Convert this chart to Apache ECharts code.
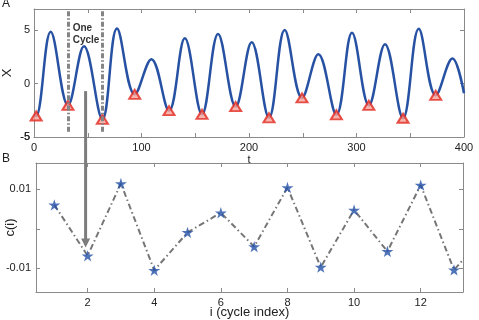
<!DOCTYPE html>
<html>
<head>
<meta charset="utf-8">
<script src="https://cdn.jsdelivr.net/npm/echarts@6/dist/echarts.min.js"></script>
<style>
    html, body { margin: 0; padding: 0; background: #fff; }
    #main { width: 479px; height: 320px; }
</style>
</head>
<body>
<div id="main"></div>
<script>
// panel A: oscillation X(t) (start, troughs, peaks, end)
var tVals = [0, 2, 15.5, 31.6, 46.5, 63.6, 77.2, 93.7, 109.2, 125.6, 140.3, 156.3, 171.2, 187.6,
    202.5, 218.6, 233.2, 249.3, 264.5, 281.3, 295.8, 311.5, 326.5, 343.3, 357.9, 373.7, 389.2, 400];
var xVals = [-2.95, -3.03, 4.86, -2.03, 3.51, -3.34, 5.17, -1.0, 2.3, -2.53, 4.25, -2.87, 4.65, -2.15,
    3.89, -3.2, 5.03, -1.34, 2.76, -2.92, 4.77, -2.03, 3.7, -3.24, 5.14, -1.09, 2.36, -0.9];

// minima (red triangles)
var minT = [2, 31.6, 63.6, 93.7, 125.6, 156.3, 187.6, 218.6, 249.3, 281.3, 311.5, 343.3, 373.7];
var minX = [-3.03, -2.03, -3.34, -1.0, -2.53, -2.87, -2.15, -3.2, -1.34, -2.92, -2.03, -3.24, -1.09];

// "One Cycle" markers
var cycleBounds = [31.6, 63.4];

// panel B: c(i) per cycle index (last one runs off the right edge)
var cycleIdx = [1, 2, 3, 4, 5, 6, 7, 8, 9, 10, 11, 12, 13, 14];
var cVals = [0.0061, -0.0068, 0.0115, -0.0105, -0.0009, 0.0041, -0.0045, 0.0105, -0.0097, 0.0048,
    -0.0057, 0.0111, -0.0104, -0.001];

// ticks
var topTicksX = [0, 50, 100, 150, 200, 250, 300, 350, 400];
var topLabelsX = [0, 100, 200, 300, 400];
var topTicksY = [-5, 0, 5];
var botTicksX = [2, 4, 6, 8, 10, 12];
var botTicksY = [-0.01, 0, 0.01];
var botLabelsY = [-0.01, 0.01];

var FONT = 'Liberation Sans, Arial, sans-serif';
var AXIS_GRAY = '#8a8a8a';
var CURVE_BLUE = '#2752a3';
var STAR = 'path://M50,0 L61,35 L98,35 L68,57 L79,91 L50,70 L21,91 L32,57 L2,35 L39,35 Z';

var pairs = function (xs, ys) {
    return xs.map(function (x, i) { return [x, ys[i]]; });
};

var axis = function (grid, pos, min, max, ticks, labels, margin, extra) {
    var a = {
        type: 'value',
        gridIndex: grid,
        position: pos,
        min: min,
        max: max,
        nameMoveOverlap: false,
        axisLine: { show: true, onZero: false, lineStyle: { color: AXIS_GRAY, width: 1 } },
        axisTick: { show: true, inside: true, length: 4, customValues: ticks, lineStyle: { color: AXIS_GRAY } },
        axisLabel: labels ? {
            show: true, customValues: labels, margin: margin,
            showMinLabel: true, showMaxLabel: true, hideOverlap: false,
            color: '#222', fontSize: 11, fontFamily: FONT
        } : { show: false },
        splitLine: { show: false }
    };
    return Object.assign(a, extra || {});
};

var nameStyle = { color: '#222', fontSize: 13, fontFamily: FONT };
var panelTitle = { fontSize: 12, fontWeight: 'normal', color: '#222', fontFamily: FONT };

var chartDom = document.getElementById('main');
var myChart = echarts.init(chartDom, null, { renderer: 'canvas' });

var option = {
    animation: false,
    backgroundColor: '#fff',
    title: [
        { text: 'A', left: 2, top: -2, padding: 0, textStyle: panelTitle },
        { text: 'B', left: 2, top: 153, padding: 0, textStyle: panelTitle }
    ],
    grid: [
        { left: 34, top: 9, width: 430, height: 128, outerBoundsMode: 'none', containLabel: false },
        { left: 36, top: 163, width: 427, height: 129, outerBoundsMode: 'none', containLabel: false }
    ],
    xAxis: [
        axis(0, 'bottom', 0, 400, topTicksX, topLabelsX, 5,
            { name: 't', nameLocation: 'middle', nameGap: 17, nameTextStyle: { color: '#222', fontSize: 11, fontFamily: FONT } }),
        axis(0, 'top', 0, 400, topTicksX, null),
        axis(1, 'bottom', 0.45, 13.27, botTicksX, botTicksX, 5,
            { name: 'i (cycle index)', nameLocation: 'middle', nameGap: 14, nameTextStyle: nameStyle }),
        axis(1, 'top', 0.45, 13.27, botTicksX, null)
    ],
    yAxis: [
        axis(0, 'left', -5, 7, topTicksY, topTicksY, 4,
            { name: 'X', nameLocation: 'middle', nameGap: 20, nameRotate: 90, nameTextStyle: nameStyle }),
        axis(0, 'right', -5, 7, topTicksY, null),
        axis(1, 'left', -0.016, 0.0167, botTicksY, botLabelsY, 5,
            { name: 'c(i)', nameLocation: 'middle', nameGap: 19, nameRotate: 90, nameTextStyle: nameStyle }),
        axis(1, 'right', -0.016, 0.0167, botTicksY, null)
    ],
    series: [
        {
            name: 'X',
            type: 'line',
            xAxisIndex: 0,
            yAxisIndex: 0,
            data: pairs(tVals, xVals),
            smooth: 0.38,
            symbol: 'none',
            lineStyle: { color: CURVE_BLUE, width: 2.5 },
            z: 3,
            markLine: {
                silent: true,
                symbol: 'none',
                label: { show: false },
                lineStyle: { color: '#858585', width: 3, type: [5, 2, 1.5, 2] },
                data: cycleBounds.map(function (t) { return [{ coord: [t, 6.8] }, { coord: [t, -4.6] }]; })
            }
        },
        {
            name: 'minima',
            type: 'scatter',
            xAxisIndex: 0,
            yAxisIndex: 0,
            data: pairs(minT, minX),
            symbol: 'triangle',
            symbolSize: [11, 9],
            itemStyle: { color: '#f5a39a', borderColor: '#e2291f', borderWidth: 2 },
            z: 4
        },
        {
            name: 'c line',
            type: 'line',
            xAxisIndex: 2,
            yAxisIndex: 2,
            data: pairs(cycleIdx, cVals),
            symbol: 'none',
            lineStyle: { color: '#767676', width: 2, type: [6, 3, 1.5, 3] },
            z: 2
        },
        {
            name: 'c(i)',
            type: 'scatter',
            xAxisIndex: 2,
            yAxisIndex: 2,
            data: pairs(cycleIdx.slice(0, 13), cVals.slice(0, 13)),
            symbol: STAR,
            symbolSize: 12,
            symbolKeepAspect: true,
            itemStyle: { color: '#2350a6' },
            z: 4
        }
    ]
};

option && myChart.setOption(option);

// annotations: "One Cycle" text, the arrow from panel A down to cycle 2 in panel B,
// and the bottom "-5" label of panel A (echarts drops it next to the x "0" label)
var txt = myChart.convertToPixel({ seriesIndex: 0 }, [36, 5.7]);
var a0 = myChart.convertToPixel({ seriesIndex: 0 }, [48, -0.7]);
var a1 = myChart.convertToPixel({ seriesIndex: 2 }, [1.97, -0.0047]);
var yMinLab = myChart.convertToPixel({ seriesIndex: 0 }, [0, topTicksY[0]]);
var head = 7;

myChart.setOption({
    graphic: [
        {
            type: 'text',
            x: yMinLab[0] - 4,
            y: yMinLab[1],
            z: 10,
            style: {
                text: String(topTicksY[0]),
                fill: '#222',
                font: '11px ' + FONT,
                align: 'right',
                verticalAlign: 'middle'
            }
        },
        {
            type: 'text',
            x: txt[0],
            y: txt[1],
            z: 10,
            style: {
                text: 'One\nCycle',
                fill: '#333',
                font: 'bold 10px ' + FONT,
                lineHeight: 11.5,
                verticalAlign: 'top'
            }
        },
        {
            type: 'line',
            z: 10,
            shape: { x1: a0[0], y1: a0[1], x2: a0[0], y2: a1[1] - head },
            style: { stroke: '#7d7d7d', lineWidth: 3 }
        },
        {
            type: 'polygon',
            z: 10,
            shape: {
                points: [[a0[0] - 4.5, a1[1] - head - 2], [a0[0] + 4.5, a1[1] - head - 2], [a0[0], a1[1]]]
            },
            style: { fill: '#7d7d7d' }
        }
    ]
});
</script>
</body>
</html>
